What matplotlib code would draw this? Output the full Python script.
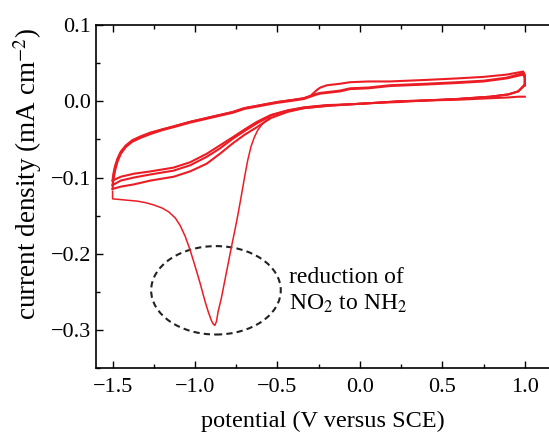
"""
Cyclic voltammogram: reduction of NO2 to NH2
"""

import numpy as np
import matplotlib.pyplot as plt
from matplotlib.patches import Ellipse
from matplotlib.ticker import MultipleLocator

plt.rcParams['font.family'] = ['Liberation Serif', 'DejaVu Serif']
plt.rcParams['mathtext.fontset'] = 'stix'

# ---------- data (V vs SCE, mA cm^-2) ----------

# first scan with the reduction peak
pot_scan1 = [-1.50, -1.50, -1.45, -1.40, -1.35, -1.30, -1.25, -1.20, -1.16,
             -1.12, -1.09, -1.06, -1.03, -1.00, -0.97, -0.94, -0.92, -0.90,
             -0.89, -0.88, -0.87, -0.86, -0.84, -0.82, -0.80, -0.78, -0.76,
             -0.74, -0.72, -0.70, -0.68, -0.66, -0.64, -0.62, -0.60, -0.58,
             -0.56]
j_scan1 = [-0.118, -0.128, -0.129, -0.130, -0.131, -0.133, -0.136, -0.140,
           -0.145, -0.153, -0.163, -0.177, -0.195, -0.216, -0.238, -0.262,
           -0.276, -0.288, -0.292, -0.294, -0.289, -0.276, -0.258, -0.236,
           -0.214, -0.192, -0.171, -0.149, -0.125, -0.100, -0.077, -0.059,
           -0.047, -0.038, -0.032, -0.027, -0.024]

# forward (lower) branches of the following cycles
pot_fwd = [-1.50, -1.45, -1.37, -1.27, -1.13, -1.03, -0.93, -0.85, -0.77,
           -0.70, -0.625, -0.54, -0.44, -0.34, -0.20, -0.06, 0.10, 0.24,
           0.39, 0.59, 0.79, 0.90, 0.96, 1.00]
j_fwd_1 = [-0.104, -0.099, -0.095, -0.092, -0.087, -0.080, -0.069, -0.058,
           -0.047, -0.037, -0.027, -0.018, -0.012, -0.008, -0.005, -0.004,
           -0.002, 0.000, 0.001, 0.003, 0.006, 0.009, 0.013, 0.022]
j_fwd_2 = [-0.110, -0.104, -0.100, -0.096, -0.091, -0.084, -0.073, -0.062,
           -0.049, -0.039, -0.029, -0.019, -0.013, -0.009, -0.006, -0.004,
           -0.002, 0.000, 0.001, 0.003, 0.006, 0.009, 0.013, 0.021]
j_fwd_3 = [-0.115, -0.112, -0.109, -0.104, -0.099, -0.092, -0.082, -0.069,
           -0.055, -0.044, -0.034, -0.022, -0.014, -0.009, -0.006, -0.004,
           -0.002, -0.001, 0.001, 0.002, 0.004, 0.005, 0.006, 0.006]

# reverse (upper) branches
pot_rev = [1.00, 1.00, 0.99, 0.89, 0.75, 0.59, 0.40, 0.18, 0.05, -0.06,
           -0.12, -0.20, -0.24, -0.26, -0.30, -0.34, -0.40, -0.50, -0.60,
           -0.70, -0.77, -0.85, -0.93, -1.03, -1.13, -1.20, -1.27, -1.33,
           -1.38, -1.42, -1.45, -1.47, -1.485, -1.495, -1.50]
j_rev_1 = [0.022, 0.035, 0.039, 0.035, 0.032, 0.030, 0.028, 0.026, 0.026,
           0.025, 0.023, 0.021, 0.018, 0.015, 0.007, 0.004, 0.002, -0.001,
           -0.005, -0.009, -0.014, -0.018, -0.022, -0.027, -0.033, -0.037,
           -0.041, -0.046, -0.051, -0.058, -0.066, -0.075, -0.085, -0.095,
           -0.104]
j_rev_2 = [0.021, 0.033, 0.037, 0.031, 0.027, 0.025, 0.023, 0.021, 0.018,
           0.017, 0.014, 0.012, 0.011, 0.010, 0.007, 0.004, 0.002, -0.001,
           -0.005, -0.009, -0.014, -0.018, -0.022, -0.027, -0.033, -0.037,
           -0.042, -0.047, -0.052, -0.059, -0.067, -0.077, -0.088, -0.099,
           -0.110]
j_rev_3 = [0.021, 0.031, 0.035, 0.030, 0.026, 0.024, 0.022, 0.020, 0.017,
           0.016, 0.013, 0.011, 0.010, 0.009, 0.006, 0.003, 0.001, -0.002,
           -0.006, -0.010, -0.015, -0.019, -0.023, -0.028, -0.034, -0.038,
           -0.043, -0.048, -0.053, -0.060, -0.069, -0.079, -0.091, -0.103,
           -0.115]

x_ticks = [-1.5, -1.0, -0.5, 0.0, 0.5, 1.0]
y_ticks = [-0.3, -0.2, -0.1, 0.0, 0.1]

RED = '#ec1c24'

# ---------- plot ----------
fig = plt.figure(figsize=(5.49, 4.32), dpi=100)
ax = fig.add_axes([0.175, 0.148, 0.826, 0.794])

# first scan continues along the lower branch after the peak
pf = np.array(pot_fwd)
scan1_x = list(pot_scan1) + list(pf[pf > -0.56])
scan1_y = list(j_scan1) + list(np.array(j_fwd_1)[pf > -0.56])
ax.plot(scan1_x, scan1_y, color=RED, lw=1.1)

for j in (j_fwd_1, j_fwd_2, j_fwd_3):
    ax.plot(pot_fwd, j, color=RED, lw=1.5)
for j in (j_rev_1, j_rev_2, j_rev_3):
    ax.plot(pot_rev, j, color=RED, lw=1.5)

# dashed ellipse around the peak
ax.add_patch(Ellipse((-0.873, -0.248), 0.786, 0.116, fill=False,
                     ls=(0, (3, 2)), lw=1.5, ec='#222222'))
ax.text(-0.43, -0.249, 'reduction of\nNO$_2$ to NH$_2$', fontsize=17,
        va='center', ha='left', linespacing=1.3)

ax.set_xlim(-1.6, 1.15)
ax.set_ylim(-0.35, 0.1)
ax.set_xticks(x_ticks)
ax.set_yticks(y_ticks)
ax.xaxis.set_minor_locator(MultipleLocator(0.25))
ax.yaxis.set_minor_locator(MultipleLocator(0.05))
ax.tick_params(which='both', direction='in', top=True, right=False,
               labelsize=16, width=1.0)
ax.tick_params(which='major', length=5)
ax.tick_params(which='minor', length=3)
ax.tick_params(axis='x', pad=7)
ax.spines['right'].set_visible(False)
for s in ('left', 'top', 'bottom'):
    ax.spines[s].set_linewidth(1.2)

ax.set_xlabel('potential (V versus SCE)', fontsize=17.5, labelpad=10)
ax.set_ylabel('current density (mA cm$^{-2}$)', fontsize=19.5)
ax.yaxis.set_label_coords(-0.115, 0.566)

plt.savefig('out.png', dpi=100)
plt.close()
